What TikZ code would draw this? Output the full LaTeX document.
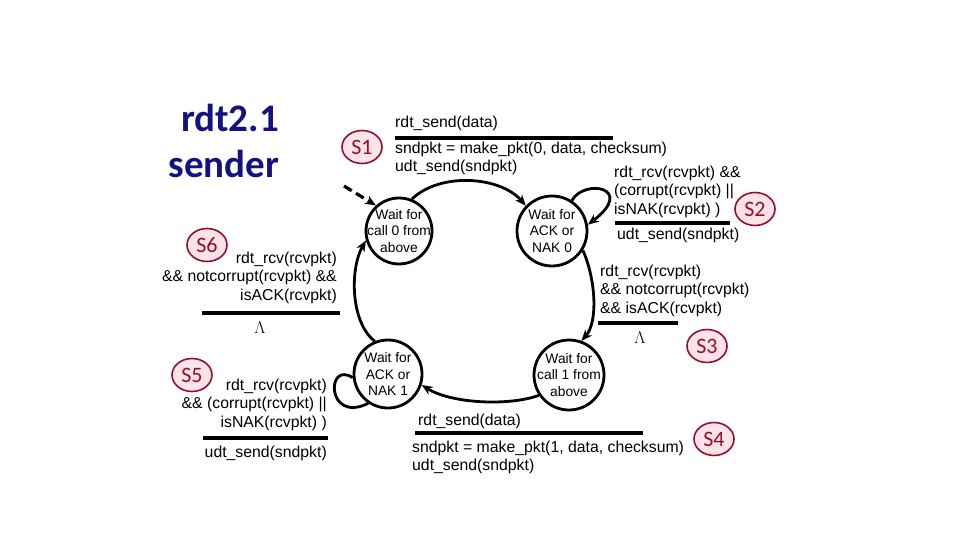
\documentclass[tikz,border=0pt]{standalone}
\usepackage{fontspec}
\setmainfont{Liberation Sans}
\newfontfamily\calib{Carlito}
\usetikzlibrary{arrows.meta,shapes.geometric}
\definecolor{navy}{RGB}{18,18,130}
\definecolor{sred}{RGB}{150,16,36}
\definecolor{spink}{RGB}{255,226,234}
\begin{document}
\begin{tikzpicture}[x=1pt,y=-1pt,
  state/.style={circle,draw,line width=2.8pt,minimum size=#1,inner sep=-6pt,align=center,
    font=\fontsize{13.8}{16.5}\selectfont},
  tr/.style={inner sep=0pt,font=\fontsize{15.8}{18.5}\selectfont},
  bar/.style={line width=3.3pt},
  edge/.style={line width=2.8pt,-{Stealth[length=11pt,width=9pt]}},
  slab/.style={ellipse,draw=sred,fill=spink,line width=1.6pt,minimum width=40pt,
    minimum height=33pt,inner sep=0pt,text=sred,font=\calib\fontsize{22}{22}\selectfont},
  lam/.style={inner sep=0pt,font=\fontsize{17}{17}\selectfont},
  ttl/.style={inner sep=0pt,text=navy,font=\calib\bfseries\fontsize{39}{43}\selectfont}]
\useasboundingbox (0,0) rectangle (960,540);

% title
\node[ttl,anchor=base] (title1) at (230,132) {rdt2.1};
\node[ttl,anchor=base] (title2) at (224,178) {sender};

% states
\node[state=66pt] (W0) at (399,231) {Wait for\\call 0 from\\above};
\node[state=70pt] (A0) at (552,231) {Wait for\\ACK or\\NAK 0};
\node[state=68pt] (A1) at (388,374) {Wait for\\ACK or\\NAK 1};
\node[state=70pt] (W1) at (569,375) {Wait for\\call 1 from\\above};

% initial arrow
\coordinate (init) at (344,186);
\draw[edge,line width=3.2pt,dash pattern=on 9pt off 5pt] (init) -- (W0.132);

% transitions
\draw[edge] (W0.68) .. controls (440,172) and (500,176) .. (A0.136);
\draw[edge] (A0.57) .. controls (585,178) and (636,188) .. (A0.10);
\draw[edge] (A0.-32) .. controls (596,280) and (598,322) .. (W1.70);
\draw[edge] (W1.214) .. controls (510,406) and (452,404) .. (A1.-18);
\draw[line width=2.8pt] (A1.186) .. controls (326,360) and (326,424) .. (A1.236);
\draw[edge] (A1.112) .. controls (350,322) and (350,268) .. (W0.196);

% transition labels: W0 -> A0
\node[tr,anchor=base west] (t1a) at (395,128) {rdt\_send(data)};
\draw[bar] (395,138) -- (613,138);
\node[tr,anchor=north west,align=left] (t1b) at (395,141.5) {sndpkt = make\_pkt(0, data, checksum)\\udt\_send(sndpkt)};

% A0 self loop
\node[tr,anchor=north west,align=left] (s2a) at (614,165.5) {rdt\_rcv(rcvpkt) \&\&\\(corrupt(rcvpkt) ||\\isNAK(rcvpkt) )};
\draw[bar] (615,223) -- (730,223);
\node[tr,anchor=base west] (s2b) at (617,239) {udt\_send(sndpkt)};

% A0 -> W1
\node[tr,anchor=north west,align=left] (s3a) at (600,264.5) {rdt\_rcv(rcvpkt)\\\&\& notcorrupt(rcvpkt)\\\&\& isACK(rcvpkt)};
\draw[bar] (598,323) -- (678,323);
\node[lam] (lam3) at (640,338) {$\Lambda$};

% A1 -> W0
\node[tr,anchor=north east,align=right] (s6a) at (337,251.5) {rdt\_rcv(rcvpkt)\\\&\& notcorrupt(rcvpkt) \&\&\\isACK(rcvpkt)};
\draw[bar] (202,313) -- (340,313);
\node[lam] (lam6) at (260,328) {$\Lambda$};

% A1 self loop
\node[tr,anchor=north east,align=right] (s5a) at (327,378.5) {rdt\_rcv(rcvpkt)\\\&\& (corrupt(rcvpkt) ||\\isNAK(rcvpkt) )};
\draw[bar] (203,438) -- (328,438);
\node[tr,anchor=base east] (s5b) at (327,457) {udt\_send(sndpkt)};

% W1 -> A1
\node[tr,anchor=base west] (t4a) at (418,425) {rdt\_send(data)};
\draw[bar] (415,433) -- (643,433);
\node[tr,anchor=north west,align=left] (t4b) at (412,440.5) {sndpkt = make\_pkt(1, data, checksum)\\udt\_send(sndpkt)};

% step labels
\node[slab] (S1) at (362,147) {S1};
\node[slab] (S2) at (755,209) {S2};
\node[slab] (S3) at (707,346) {S3};
\node[slab] (S4) at (714,439) {S4};
\node[slab] (S5) at (192,375) {S5};
\node[slab] (S6) at (207,245) {S6};
\end{tikzpicture}
\end{document}
